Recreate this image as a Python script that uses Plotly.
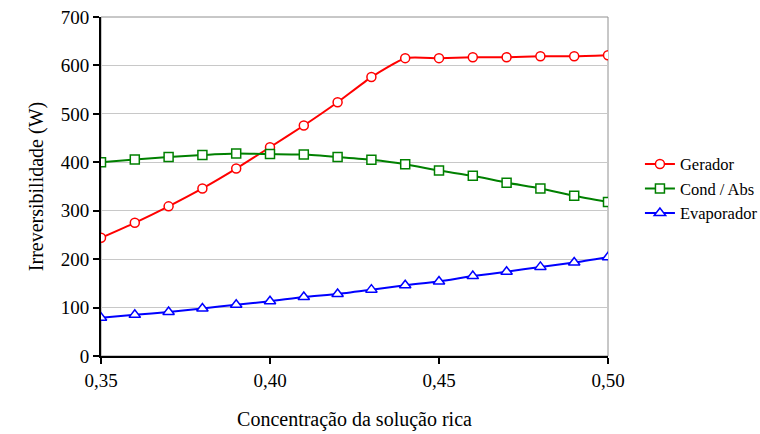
import plotly.graph_objects as go

conc = [0.35, 0.36, 0.37, 0.38, 0.39, 0.40, 0.41, 0.42, 0.43, 0.44, 0.45, 0.46, 0.47, 0.48, 0.49, 0.50]
gerador = [244, 275, 309, 346, 387, 431, 476, 524, 576, 615, 615, 617, 617, 619, 619, 621]
cond_abs = [400, 406, 411, 415, 418, 417, 416, 411, 405, 396, 383, 372, 358, 346, 331, 318]
evaporador = [79, 85, 91, 98, 106, 113, 122, 128, 137, 146, 154, 165, 174, 184, 193, 204]

FONT = "Times New Roman, Liberation Serif, DejaVu Serif, serif"

fig = go.Figure()
series = [
    ("Gerador", gerador, "#ff0000", "circle", 9),
    ("Cond / Abs", cond_abs, "#008000", "square", 9),
    ("Evaporador", evaporador, "#0000ff", "triangle-up", 10),
]
for name, vals, col, sym, sz in series:
    fig.add_trace(go.Scatter(
        x=conc, y=vals, name=name, mode="lines+markers",
        line=dict(color=col, width=2, shape="spline", smoothing=0.5),
        marker=dict(symbol=sym, size=sz, color="white", line=dict(color=col, width=1.5)),
    ))

fig.add_shape(type="rect", xref="paper", yref="paper", x0=0, y0=0, x1=1, y1=1,
              line=dict(color="#909090", width=1), layer="below")

fig.update_layout(
    width=760, height=434,
    margin=dict(l=101, r=152, t=17, b=78, autoexpand=False),
    paper_bgcolor="white", plot_bgcolor="white",
    separators=",.",
    font=dict(family=FONT, size=19, color="black"),
    showlegend=True,
    legend=dict(x=1.063, y=0.617, xanchor="left", yanchor="top",
                font=dict(family=FONT, size=16.5), bgcolor="rgba(0,0,0,0)",
                tracegroupgap=2, itemwidth=30),
    xaxis=dict(range=[0.35, 0.50], tickvals=[0.35, 0.40, 0.45, 0.50], tickformat=".2f",
               showgrid=False, zeroline=False, showline=True, linecolor="black", linewidth=2,
               ticks="outside", ticklen=6, tickwidth=2, tickcolor="black", automargin=False,
               tickfont=dict(family=FONT, size=19),
               title=dict(text="Concentração da solução rica", font=dict(family=FONT, size=20), standoff=22)),
    yaxis=dict(range=[0, 700], dtick=100, showgrid=True, gridcolor="#c8c8c8", gridwidth=1,
               zeroline=False, showline=True, linecolor="black", linewidth=2,
               ticks="outside", ticklen=6, tickwidth=2, tickcolor="black", automargin=False,
               tickfont=dict(family=FONT, size=19),
               title=dict(text="Irreversibilidade (W)", font=dict(family=FONT, size=20), standoff=12)),
)

fig.write_html("out.html", config={"displayModeBar": False},
               post_script="document.body.style.margin='0';")
